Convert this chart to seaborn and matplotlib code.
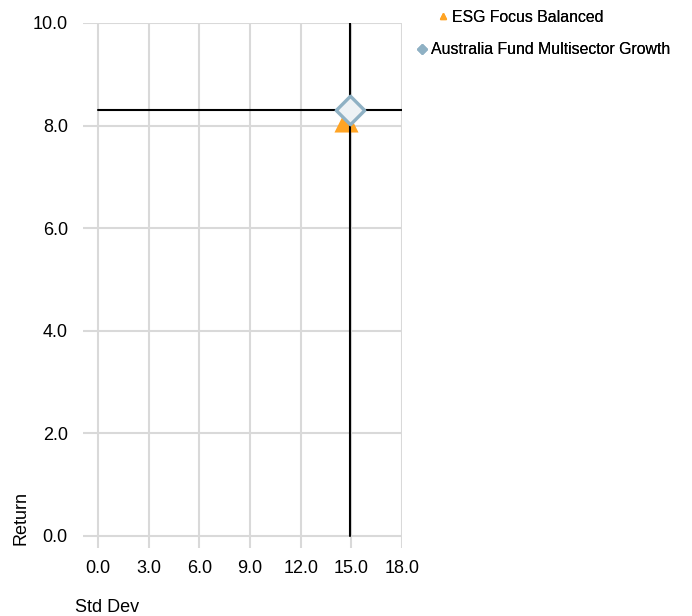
import matplotlib
matplotlib.use("Agg")
import matplotlib.pyplot as plt
import seaborn as sns
import pandas as pd

# fund risk / return points
funds = ["ESG Focus Balanced", "Australia Fund Multisector Growth"]
std_dev = [14.7, 14.92]
returns = [8.1, 8.3]
markers = ["^", "D"]
colors = ["#FFA424", "#8FB1C4"]

# benchmark crosshair (taken from the Multisector Growth point)
cross_x = 14.92
cross_y = 8.3

x_ticks = [0, 3, 6, 9, 12, 15, 18]
y_ticks = [0, 2, 4, 6, 8, 10]

sns.set_style("white")
plt.rcParams["font.family"] = ["Liberation Sans", "DejaVu Sans"]
plt.rcParams["text.color"] = "black"

df = pd.DataFrame({"fund": funds, "std_dev": std_dev, "return": returns})

fig = plt.figure(figsize=(6.92, 6.16), dpi=100)
ax = fig.add_axes([0.12, 0.1104, 0.461, 0.8523])

ax.set_xlim(-0.89, 18)
ax.set_ylim(-0.234, 10)
ax.set_xticks(x_ticks)
ax.set_yticks(y_ticks)
ax.set_xticklabels([f"{v:.1f}" for v in x_ticks], fontsize=13)
ax.set_yticklabels([f"{v:.1f}" for v in y_ticks], fontsize=13)
ax.tick_params(axis="x", length=0, pad=9, labelcolor="black")
ax.tick_params(axis="y", length=0, pad=11, labelcolor="black")
ax.grid(True, color="#d9d9d9", linewidth=1.5)
ax.set_axisbelow(True)
for s in ax.spines.values():
    s.set_visible(False)

# orange triangle first, crosshair over it, diamond on top
sns.scatterplot(data=df.iloc[[0]], x="std_dev", y="return", marker=markers[0],
                color=colors[0], s=300, linewidth=0, ax=ax, zorder=3, legend=False)
ax.plot([0, 18], [cross_y, cross_y], color="black", lw=1.5, zorder=4)
ax.plot([cross_x, cross_x], [0, 10], color="black", lw=1.5, zorder=4)
sns.scatterplot(data=df.iloc[[1]], x="std_dev", y="return", marker=markers[1],
                s=210, facecolor="#eef2f5", edgecolor=colors[1], linewidth=2.4,
                ax=ax, zorder=5, legend=False)

ax.set_xlabel("")
ax.set_ylabel("")
fig.text(0.03, 1 - 518 / 616, "Return", rotation=90, ha="center", va="center", fontsize=13)
fig.text(0.108, 1 - 607 / 616, "Std Dev", ha="left", va="center", fontsize=13)

# legend entries: the two rows are not left-aligned in the reference
anchors = [(438 / 692, 1 - 17 / 616), (417 / 692, 1 - 50 / 616)]
for i in range(len(funds)):
    h = plt.Line2D([], [], marker=markers[i], color=colors[i], linestyle="",
                   markersize=5)
    leg = fig.legend([h], [funds[i]], loc="center left",
                     bbox_to_anchor=anchors[i], frameon=False, fontsize=11.4,
                     handletextpad=0.3, handlelength=0.6, borderpad=0,
                     borderaxespad=0)
    fig.add_artist(leg)

fig.savefig("out.png", dpi=100)
